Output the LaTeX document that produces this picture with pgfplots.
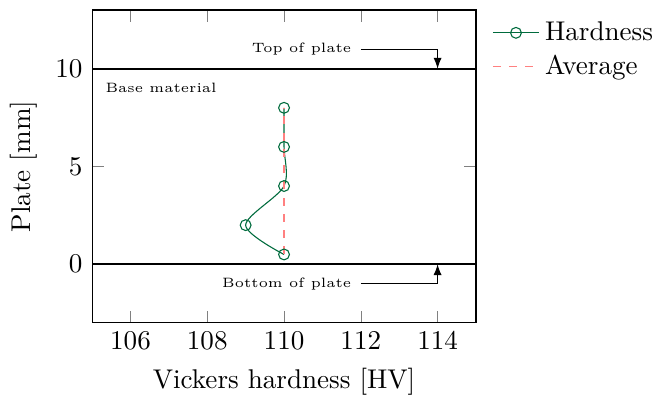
\documentclass[border=0pt]{standalone}
\usepackage{pgfplots}
\pgfplotsset{compat=1.18}
\usetikzlibrary{arrows.meta}
\definecolor{hardgreen}{rgb}{0.0,0.42,0.24}
\definecolor{avgred}{rgb}{1.0,0.5,0.5}
\begin{document}
\begin{tikzpicture}
\begin{axis}[
  name=ax,
  scale only axis,
  width=141.7pt, height=115.5pt,
  xmin=105, xmax=115, ymin=-3, ymax=13,
  xtick={106,108,110,112,114},
  ytick={0,5,10},
  xlabel={Vickers hardness [HV]},
  ylabel={Plate [mm]},
  legend style={at={(1.02,1)}, anchor=north west, draw=none, fill=none},
  legend cell align=left,
  clip=false,
]
\addplot[color=hardgreen, smooth, mark=o] coordinates {
  (110,0.5) (109,2) (110,4) (110,6) (110,8)
};
\addlegendentry{Hardness}
\addplot[color=avgred, dashed] coordinates {(110,0.5) (110,8)};
\addlegendentry{Average}
\addplot[black, thick, forget plot] coordinates {(105,0) (115,0)};
\addplot[black, thick, forget plot] coordinates {(105,10) (115,10)};
\node[anchor=east, font=\tiny] (top) at (axis cs:112,11) {Top of plate};
\draw[-{Latex[length=4pt,width=3pt]}] (top.east) -| (axis cs:114,10);
\node[anchor=east, font=\tiny] (bot) at (axis cs:112,-1) {Bottom of plate};
\draw[-{Latex[length=4pt,width=3pt]}] (bot.east) -| (axis cs:114,0);
\node[anchor=west, font=\tiny] at (axis cs:105.1,9) {Base material};
\end{axis}
\pgfresetboundingbox
\path[use as bounding box] ([xshift=-34pt,yshift=-27.7pt]ax.south west) rectangle ([xshift=67.2pt,yshift=3.7pt]ax.north east);
\end{tikzpicture}
\end{document}
